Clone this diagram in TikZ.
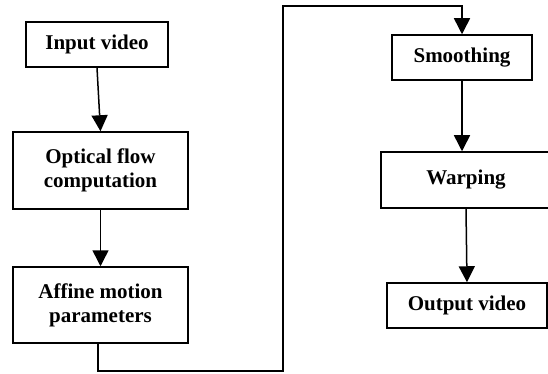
\documentclass[tikz,border=0pt]{standalone}
\usepackage{fontspec}
\setmainfont{Liberation Serif}
\usetikzlibrary{arrows.meta}
\begin{document}
\begin{tikzpicture}[x=1pt,y=-1pt,
  blk/.style={draw,line width=1.5pt,inner sep=0pt,align=center,
    font=\fontsize{21}{24}\selectfont\bfseries},
  conn/.style={line width=1.5pt},
  arr/.style={conn,-{Triangle[length=16pt,width=16pt]}}]
\useasboundingbox (0,0) rectangle (548,374);
\node[blk,minimum width=142pt,minimum height=45pt] (input) at (97,44.5) {Input video};
\node[blk,minimum width=175pt,minimum height=77pt] (optical) at (100.5,170.5) {Optical flow\\computation};
\node[blk,minimum width=175pt,minimum height=76pt] (affine) at (100.5,305) {Affine motion\\parameters};
\node[blk,minimum width=140pt,minimum height=45pt] (smooth) at (462,57.5) {Smoothing};
\node[blk,minimum width=170pt,minimum height=56pt] (warp) at (466,180) {Warping};
\node[blk,minimum width=160pt,minimum height=45pt] (output) at (467,305.5) {Output video};
\coordinate (c1) at (98,371);
\coordinate (c2) at (283,371);
\coordinate (c3) at (283,6);
\coordinate (c4) at (462,6);
\draw[arr] (input.south) -- (optical.north);
\draw[arr] (optical.south) -- (affine.north);
\draw[arr] (affine.south -| c1) -- (c1) -- (c2) -- (c3) -- (c4) -- (smooth.north);
\draw[arr] (smooth.south) -- (smooth.south |- warp.north);
\draw[arr] (warp.south) -- (output.north);
\end{tikzpicture}
\end{document}
